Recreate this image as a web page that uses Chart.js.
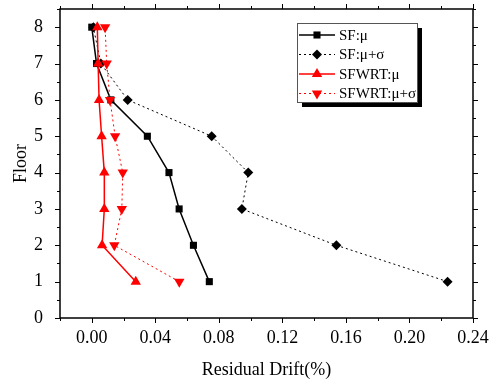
<!DOCTYPE html>
<html>
<head>
<meta charset="utf-8">
<script src="https://cdn.jsdelivr.net/npm/chart.js@4.4.0/dist/chart.umd.min.js"></script>
<style>
  html, body { margin: 0; padding: 0; background: #fff; }
  canvas { display: block; }
</style>
</head>
<body>
<canvas id="drift" width="495" height="383"></canvas>
<script>
// floors and residual drift (%) per series
const floors = [1, 2, 3, 4, 5, 6, 7, 8];
const sfMean = [0.074, 0.064, 0.055, 0.0486, 0.035, 0.012, 0.003, 0.000];
const sfMeanSigma = [0.224, 0.154, 0.0945, 0.0985, 0.0755, 0.0226, 0.0057, 0.001];
const sfwrtMean = [0.0277, 0.0065, 0.0079, 0.0079, 0.0062, 0.0046, 0.004, 0.0035];
const sfwrtMeanSigma = [0.0551, 0.0142, 0.0189, 0.0195, 0.0147, 0.0115, 0.0094, 0.0084];
const seriesLabels = ['SF:\u03bc', 'SF:\u03bc+\u03c3', 'SFWRT:\u03bc', 'SFWRT:\u03bc+\u03c3'];

const FONT = '"Liberation Serif", "Times New Roman", serif';

function points(values) {
    return values.map((v, i) => ({ x: v, y: floors[i] }));
}

function isMajor(v, step) {
    const r = v / step;
    return Math.abs(r - Math.round(r)) < 1e-6;
}

// frame with outward major/minor ticks on all four sides
const framePlugin = {
    id: 'frame',
    afterDatasetsDraw(chart) {
        const { ctx, chartArea: a, scales: { x, y } } = chart;
        ctx.save();
        ctx.strokeStyle = '#000';
        ctx.lineWidth = 1.5;
        ctx.strokeRect(a.left, a.top, a.right - a.left, a.bottom - a.top);
        ctx.lineWidth = 1;
        ctx.beginPath();
        x.ticks.forEach(t => {
            const px = Math.round(x.getPixelForValue(t.value)) + 0.5;
            const len = isMajor(t.value, 0.04) ? 5 : 3;
            ctx.moveTo(px, a.bottom); ctx.lineTo(px, a.bottom + len);
            ctx.moveTo(px, a.top); ctx.lineTo(px, a.top - len);
        });
        y.ticks.forEach(t => {
            const py = Math.round(y.getPixelForValue(t.value)) + 0.5;
            const len = isMajor(t.value, 1) ? 5 : 3;
            ctx.moveTo(a.left, py); ctx.lineTo(a.left - len, py);
            ctx.moveTo(a.right, py); ctx.lineTo(a.right + len, py);
        });
        ctx.stroke();
        ctx.restore();
    }
};

// boxed legend with drop shadow, line + marker samples
const boxLegend = {
    id: 'boxLegend',
    afterDraw(chart) {
        const { ctx, chartArea: a } = chart;
        const bx = a.right - 176, by = a.top + 14, bw = 120, bh = 79;
        ctx.save();
        ctx.fillStyle = '#000';
        ctx.fillRect(bx + 5, by + 5, bw, bh);
        ctx.fillStyle = '#fff';
        ctx.fillRect(bx, by, bw, bh);
        ctx.strokeStyle = '#555';
        ctx.lineWidth = 1;
        ctx.strokeRect(bx + 0.5, by + 0.5, bw, bh);
        ctx.font = '15px ' + FONT;
        ctx.textBaseline = 'middle';
        chart.data.datasets.forEach((ds, i) => {
            const cy = by + 12 + i * 19.5;
            ctx.strokeStyle = ds.borderColor;
            ctx.lineWidth = ds.borderWidth;
            ctx.setLineDash(ds.borderDash || []);
            ctx.beginPath();
            ctx.moveTo(bx + 2, cy);
            ctx.lineTo(bx + 38, cy);
            ctx.stroke();
            ctx.setLineDash([]);
            ctx.fillStyle = ds.pointBackgroundColor;
            Chart.helpers.drawPoint(ctx, {
                pointStyle: ds.pointStyle,
                rotation: ds.pointRotation || 0,
                radius: ds.pointRadius,
                borderWidth: 0
            }, bx + 20, cy);
            ctx.fillStyle = '#000';
            ctx.fillText(ds.label, bx + 42, cy + 1);
        });
        ctx.restore();
    }
};

new Chart(document.getElementById('drift'), {
    type: 'scatter',
    data: {
        datasets: [
            {
                label: seriesLabels[0], data: points(sfMean), showLine: true,
                borderColor: '#000', borderWidth: 1.5,
                pointStyle: 'rect', pointRadius: 5,
                pointBackgroundColor: '#000', pointBorderColor: '#000', pointBorderWidth: 0,
                order: 3
            },
            {
                label: seriesLabels[1], data: points(sfMeanSigma), showLine: true,
                borderColor: '#000', borderWidth: 1, borderDash: [2, 3],
                pointStyle: 'rectRot', pointRadius: 5,
                pointBackgroundColor: '#000', pointBorderColor: '#000', pointBorderWidth: 0,
                order: 4
            },
            {
                label: seriesLabels[2], data: points(sfwrtMean), showLine: true,
                borderColor: '#ff0000', borderWidth: 1.5,
                pointStyle: 'triangle', pointRadius: 6,
                pointBackgroundColor: '#ff0000', pointBorderColor: '#ff0000', pointBorderWidth: 0,
                order: 1
            },
            {
                label: seriesLabels[3], data: points(sfwrtMeanSigma), showLine: true,
                borderColor: '#ff0000', borderWidth: 1, borderDash: [2, 3],
                pointStyle: 'triangle', pointRotation: 180, pointRadius: 6,
                pointBackgroundColor: '#ff0000', pointBorderColor: '#ff0000', pointBorderWidth: 0,
                order: 2
            }
        ]
    },
    options: {
        responsive: false,
        animation: false,
        devicePixelRatio: 1,
        layout: { padding: { top: 9, right: 22, left: 0, bottom: 0 } },
        plugins: { legend: { display: false }, tooltip: { enabled: false } },
        scales: {
            x: {
                type: 'linear', min: -0.02, max: 0.24,
                grid: { display: false },
                border: { display: false },
                afterFit(scale) { scale.height = 65; },
                ticks: {
                    stepSize: 0.02, autoSkip: false, maxRotation: 0, padding: 1,
                    color: '#000', font: { family: FONT, size: 18 },
                    callback: v => (v > -0.001 && isMajor(v, 0.04)) ? v.toFixed(2) : ''
                },
                title: {
                    display: true, text: 'Residual Drift(%)', color: '#000',
                    font: { family: FONT, size: 18 }, padding: { top: 4, bottom: 2 }
                }
            },
            y: {
                type: 'linear', min: 0, max: 8.5,
                grid: { display: false },
                border: { display: false },
                afterFit(scale) {
                    scale.width = 60;
                    scale.paddingTop = 0;
                    scale.paddingBottom = 0;
                },
                ticks: {
                    stepSize: 0.5, autoSkip: false, padding: 9,
                    color: '#000', font: { family: FONT, size: 18 },
                    callback: v => isMajor(v, 1) ? String(v) : ''
                },
                title: {
                    display: true, text: 'Floor', color: '#000',
                    font: { family: FONT, size: 18 }, padding: { top: 10, bottom: 4 }
                }
            }
        }
    },
    plugins: [framePlugin, boxLegend]
});
</script>
</body>
</html>
